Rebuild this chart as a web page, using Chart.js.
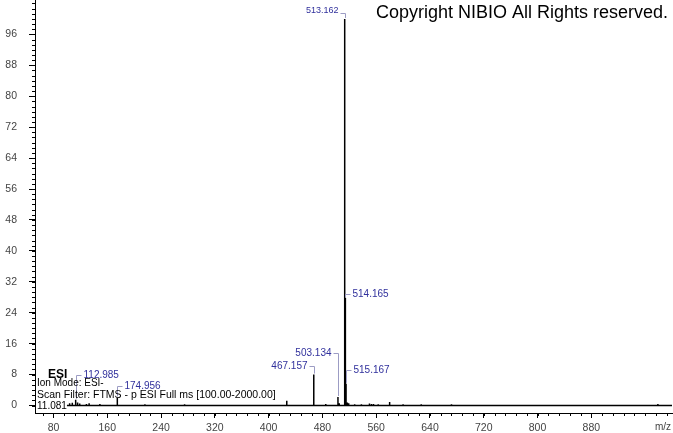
<!DOCTYPE html>
<html>
<head>
<meta charset="utf-8">
<script src="https://cdn.jsdelivr.net/npm/chart.js@4"></script>
<style>
  html, body { margin: 0; padding: 0; background: #fff; }
  canvas { display: block; }
</style>
</head>
<body>
<canvas id="spectrumChart" width="673" height="433"></canvas>
<script>
// Mass spectrum (centroid) - m/z and relative abundance (%)
const peakMz = [104.0, 108.0, 112.985, 115.9, 119.0, 129.0, 133.0, 149.0, 174.956, 216.0, 275.0,
    427.0, 467.157, 485.0, 503.134, 505.1, 513.162, 514.165, 515.167, 517.1, 519.1, 528.0,
    538.0, 550.0, 553.0, 556.0, 563.0, 580.0, 600.0, 627.0, 672.0, 979.0];
const peakIntensity = [0.6, 0.7, 1.5, 0.8, 0.5, 0.4, 0.6, 0.4, 2.1, 0.3, 0.3,
    1.2, 8.0, 0.4, 2.2, 0.6, 100, 27.8, 5.6, 0.8, 0.6, 0.3,
    0.3, 0.5, 0.4, 0.4, 0.3, 0.9, 0.3, 0.3, 0.3, 0.4];

// labelled peaks
const labelledMz = [112.985, 174.956, 467.157, 503.134, 513.162, 514.165, 515.167];
const labelTexts = ['112.985', '174.956', '467.157', '503.134', '513.162', '514.165', '515.167'];

// scan range and axes
const scanRange = [100, 1000];
const xRange = [52.5, 1000];
const yRange = [-1.94, 104.9];
const xTicks = [80, 160, 240, 320, 400, 480, 560, 640, 720, 800, 880];
const yTicks = [0, 8, 16, 24, 32, 40, 48, 56, 64, 72, 80, 88, 96];
const xMinorStep = 16;
const yMinorStep = 4 / 3;

const copyrightText = 'Copyright NIBIO All Rights reserved.';
const infoTitle = 'ESI';
const infoLines = ['Ion Mode: ESI-', 'Scan Filter: FTMS - p ESI Full ms [100.00-2000.00]', '11.081'];

// where each peak label sits (side of the stick, offset above its top, font size)
const labelPlacement = [
    { side: 'right', dy: -25, size: 10 },
    { side: 'right', dy: -11, size: 10 },
    { side: 'left', dy: -9, size: 10 },
    { side: 'left', dy: -44, size: 10 },
    { side: 'left', dy: -6, size: 9, textDy: -3 },
    { side: 'right', dy: -4, size: 10 },
    { side: 'right', dy: -14, size: 10 }
];

const FONT = '"Liberation Sans", Arial, sans-serif';
Chart.defaults.font.family = FONT;

// stick spectrum as one polyline: baseline -> up -> down
function buildTrace() {
    const pts = [{ x: scanRange[0], y: 0 }];
    peakMz.forEach((mz, i) => {
        pts.push({ x: mz, y: 0 }, { x: mz, y: peakIntensity[i] }, { x: mz, y: 0 });
    });
    pts.push({ x: scanRange[1], y: 0 });
    return pts;
}

function noPadding(scale) {
    scale.paddingTop = 0;
    scale.paddingBottom = 0;
    scale.paddingLeft = 0;
    scale.paddingRight = 0;
}

const minorTicks = {
    id: 'minorTicks',
    afterDraw(chart) {
        const { ctx, chartArea, scales: { x, y } } = chart;
        ctx.save();
        ctx.strokeStyle = '#000';
        ctx.lineWidth = 1;
        ctx.beginPath();
        for (let v = Math.ceil(xRange[0] / xMinorStep) * xMinorStep; v <= xRange[1]; v += xMinorStep) {
            const px = Math.round(x.getPixelForValue(v)) + 0.5;
            ctx.moveTo(px, chartArea.bottom);
            ctx.lineTo(px, chartArea.bottom + 3);
        }
        for (let v = 0; v <= yRange[1]; v += yMinorStep) {
            const py = Math.round(y.getPixelForValue(v)) + 0.5;
            ctx.moveTo(chartArea.left - 3, py);
            ctx.lineTo(chartArea.left, py);
        }
        ctx.stroke();
        ctx.restore();
    }
};

const peakLabels = {
    id: 'peakLabels',
    afterDatasetsDraw(chart) {
        const { ctx, scales: { x, y } } = chart;
        ctx.save();
        labelledMz.forEach((mz, i) => {
            const idx = peakMz.indexOf(mz);
            const p = labelPlacement[i];
            const dir = p.side === 'right' ? 1 : -1;
            const px = Math.round(x.getPixelForValue(mz)) + 0.5;
            const top = y.getPixelForValue(peakIntensity[idx]);
            const ly = Math.round(top + p.dy) + 0.5;
            ctx.strokeStyle = '#9c9cc4';
            ctx.lineWidth = 1;
            ctx.beginPath();
            ctx.moveTo(px, top - 1);
            ctx.lineTo(px, ly);
            ctx.lineTo(px + dir * 5, ly);
            ctx.stroke();
            ctx.fillStyle = '#30309c';
            ctx.font = p.size + 'px ' + FONT;
            ctx.textBaseline = 'middle';
            ctx.textAlign = dir > 0 ? 'left' : 'right';
            ctx.fillText(labelTexts[i], px + dir * 7, ly + (p.textDy || 0));
        });
        ctx.restore();
    }
};

const captions = {
    id: 'captions',
    afterDraw(chart) {
        const { ctx } = chart;
        ctx.save();
        ctx.fillStyle = '#000';
        ctx.textBaseline = 'middle';
        ctx.textAlign = 'left';
        ctx.font = '18px ' + FONT;
        ctx.fillText(copyrightText, 376, 13);
        ctx.font = 'bold 12px ' + FONT;
        ctx.fillText(infoTitle, 48, 375);
        ctx.font = '10px ' + FONT;
        ctx.fillText(infoLines[0], 37, 383);
        ctx.font = '10.5px ' + FONT;
        ctx.fillText(infoLines[1], 37, 395);
        ctx.font = '10px ' + FONT;
        ctx.fillText(infoLines[2], 37, 406);
        ctx.fillStyle = '#444';
        ctx.textAlign = 'center';
        ctx.fillText('m/z', 663, 427);
        ctx.restore();
    }
};

new Chart(document.getElementById('spectrumChart'), {
    type: 'line',
    data: {
        datasets: [{
            data: buildTrace(),
            borderColor: '#000',
            borderWidth: 1.5,
            pointRadius: 0,
            tension: 0,
            fill: false
        }]
    },
    options: {
        responsive: false,
        animation: false,
        devicePixelRatio: 1,
        layout: { padding: { top: 0, right: 1, bottom: 0, left: 0 } },
        plugins: {
            legend: { display: false },
            tooltip: { enabled: false },
            title: { display: false }
        },
        scales: {
            x: {
                type: 'linear',
                min: xRange[0],
                max: xRange[1],
                afterBuildTicks: (scale) => { scale.ticks = xTicks.map(v => ({ value: v })); },
                afterFit: (scale) => { scale.height = 20; noPadding(scale); },
                border: { display: true, color: '#000', width: 1 },
                grid: { drawOnChartArea: false, drawTicks: true, tickLength: 5, tickColor: '#000' },
                ticks: {
                    autoSkip: false,
                    maxRotation: 0,
                    padding: 4,
                    color: '#444',
                    font: { size: 10.5 }
                }
            },
            y: {
                min: yRange[0],
                max: yRange[1],
                afterBuildTicks: (scale) => { scale.ticks = yTicks.map(v => ({ value: v })); },
                afterFit: (scale) => { scale.width = 35; noPadding(scale); },
                border: { display: true, color: '#000', width: 1 },
                grid: { drawOnChartArea: false, drawTicks: true, tickLength: 6, tickColor: '#000' },
                ticks: {
                    autoSkip: false,
                    padding: 12,
                    color: '#444',
                    font: { size: 10.5 }
                }
            }
        }
    },
    plugins: [minorTicks, peakLabels, captions]
});
</script>
</body>
</html>
